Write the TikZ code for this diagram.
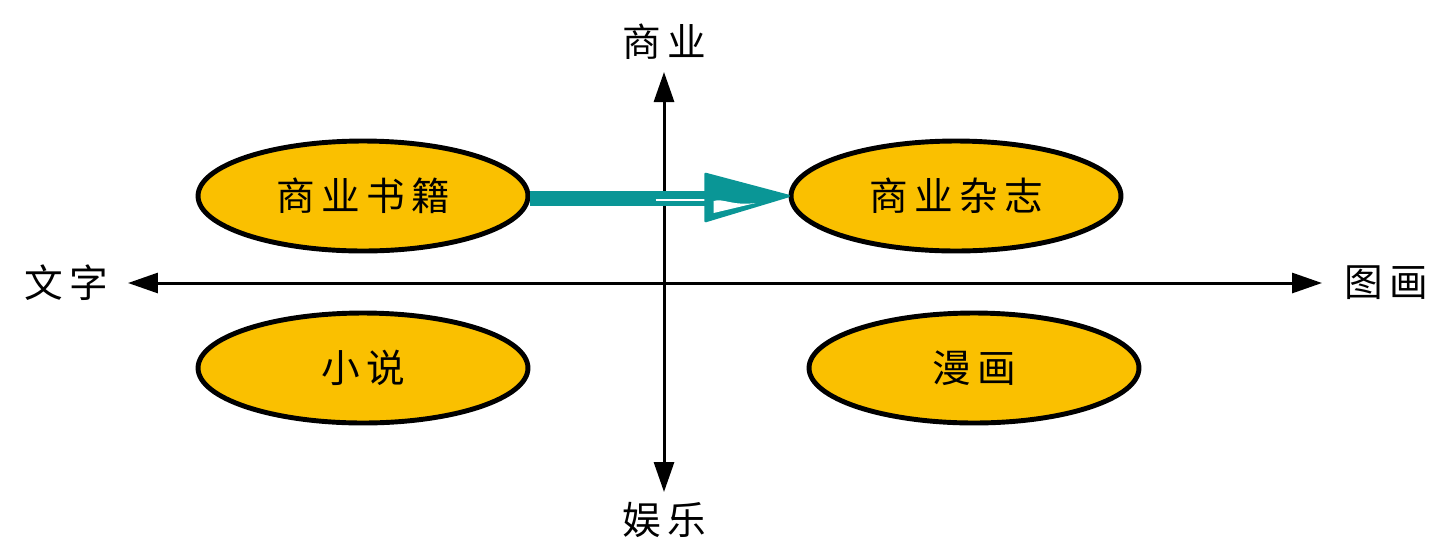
\documentclass[tikz,border=0pt]{standalone}
\usepackage{fontspec}
\setmainfont{Noto Sans CJK SC}
\usetikzlibrary{arrows.meta,calc,shapes.geometric}
\definecolor{gold}{RGB}{250,192,0}
\definecolor{tealc}{RGB}{10,150,150}
\tikzset{
  oval/.style={ellipse, draw=black, line width=2.8pt, fill=gold, minimum width=6.6cm, minimum height=2.2cm, inner sep=0pt, font=\fontsize{22}{24}\selectfont},
  axis/.style={line width=1.7pt, -{Triangle[length=0.6cm,width=0.4cm]}},
  lab/.style={font=\fontsize{22}{24}\selectfont, inner sep=0pt}
}
\begin{document}
\begin{tikzpicture}[x=0.02cm,y=-0.02cm]
\useasboundingbox (0,0) rectangle (1450,559);
\coordinate (o) at (664,283);
\coordinate (top) at (664,72);
\coordinate (bot) at (664,492);
\coordinate (left) at (128,283);
\coordinate (right) at (1322,283);
\draw[axis] (o) -- (top);
\draw[axis] (o) -- (bot);
\draw[axis] (o) -- (left);
\draw[axis] (o) -- (right);
\node[lab] (t) at (664,42) {商\,业};
\node[lab] (bt) at (664,520) {娱\,乐};
\node[lab] (l) at (66,283) {文\,字};
\node[lab] (r) at (1386,283) {图\,画};
\node[oval] (a) at (363,196) {商\,业\,书\,籍};
\node[oval] (b) at (956,196) {商\,业\,杂\,志};
\node[oval] (c) at (363,368) {小\,说};
\node[oval] (d) at (974,368) {漫\,画};
\coordinate (hb) at ($(b.west)+(-83,0)$);
\coordinate (s1) at ($(a.east)+(0,2)$);
\coordinate (s2) at ($(hb)+(2,2)$);
\draw[tealc, line width=0.3cm] (s1) -- (s2);
\draw[white, line width=1.2pt] ($(hb)+(-50,4)$) -- ($(hb)+(2,4)$);
\draw[tealc, line width=1.5pt, line join=round, fill=tealc] ($(hb)+(0,-22)$) -- (b.west) -- ($(hb)+(0,25)$) -- cycle;
\fill[white] ($(hb)+(8,5)$) .. controls ($(hb)+(18,2)$) and ($(hb)+(26,10)$) .. ($(hb)+(50,7)$) -- ($(hb)+(8,17)$) -- cycle;
\end{tikzpicture}
\end{document}
